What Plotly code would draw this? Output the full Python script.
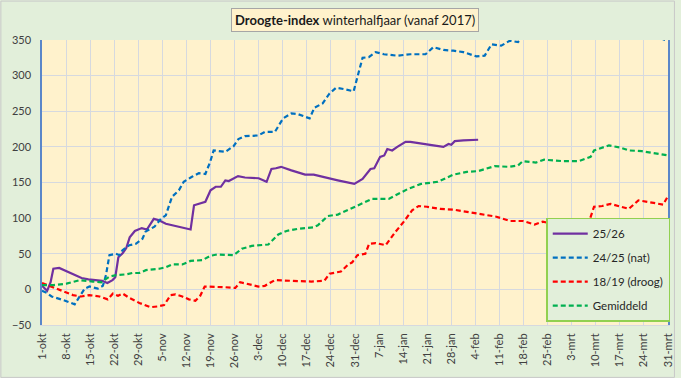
import plotly.graph_objects as go

# ---- data (x = day number since 1-okt) ----
tick_labels = ["1-okt", "8-okt", "15-okt", "22-okt", "29-okt", "5-nov", "12-nov", "19-nov",
               "26-nov", "3-dec", "10-dec", "17-dec", "24-dec", "31-dec", "7-jan", "14-jan",
               "21-jan", "28-jan", "4-feb", "11-feb", "18-feb", "25-feb", "3-mrt", "10-mrt",
               "17-mrt", "24-mrt", "31-mrt"]

s2526_day = [0, 1.5, 2.5, 3.3, 5, 7, 9, 11.5, 13.5, 16, 17.5, 19, 20.5, 21.3, 22.2, 23.5, 24.5,
             25.5, 27, 29, 30.5, 32.5, 34, 36, 40, 42, 43.2, 44.2, 45.5, 47.5, 49, 50.5, 52,
             53.3, 54.3, 55.3, 57, 59, 63, 65.3, 66.7, 68, 69.5, 72.5, 76.5, 79, 84, 86, 90.8,
             93.2, 95.5, 96.6, 98.3, 99.5, 100.4, 101.8, 103.3, 105.7, 107.1, 110.5, 113.8,
             116.7, 118.2, 119, 120, 122.5, 125, 126.8]
s2526_val = [5, -2, 10, 29, 30, 26, 21, 16, 14, 13, 12, 9, 13, 17, 45, 51, 58,
             73, 82, 86, 84, 99, 97, 92, 88, 85, 84, 118, 120, 123, 139, 144, 144,
             153, 152, 155, 159, 157, 156, 151, 169, 170, 172, 167, 161, 161, 155, 153, 148,
             155, 169, 170, 186, 188, 197, 195, 200, 207, 207, 204, 202,
             200, 204, 203, 208, 209, 209, 210]

s2425_day = [0, 1.4, 2.8, 6.2, 9.5, 11.4, 12.4, 13.8, 16.2, 17.7, 18.6, 19.6, 21.5, 22.5, 23.4,
             25.4, 27.3, 29.2, 30.1, 32.7, 34.6, 36, 36.9, 37.8, 39.8, 41.2, 43.6, 45.6, 47.5,
             48.9, 49.9, 51.8, 53.3, 55.7, 57.1, 59, 62.9, 64.8, 67.7, 70.1, 72.5, 74.4, 76.3,
             77.8, 79.2, 81.6, 83.6, 85.5, 87.9, 90.6, 91.7, 93.2, 95, 97, 99.4, 103.3, 107.1,
             111.5, 113.8, 116.7, 119.6, 122.5, 126.3, 128.7, 130.7, 133.5, 136, 138.4, 140,
             150, 160, 170, 179, 180.6, 182]
s2425_val = [-2, -5, -10, -15, -21, -6, 1, 4, 1, 5, 20, 48, 50, 48, 55,
             62, 64, 71, 81, 88, 99, 104, 118, 130, 139, 151, 158, 163, 162,
             179, 195, 194, 193, 201, 211, 215, 216, 221, 221, 240, 247, 246, 243,
             240, 255, 261, 275, 283, 281, 278, 298, 325, 326, 333, 330, 328, 330,
             330, 340, 336, 335, 333, 327, 328, 344, 342, 349, 347, 356,
             365, 370, 365, 358, 351, 349]

s1819_day = [0, 3.3, 6.2, 9, 11.4, 13.8, 16.7, 19.1, 20.6, 22.1, 23.5, 25.4, 28.3, 31.6, 33.6,
             35.5, 37.4, 38.8, 40.8, 42.7, 44.6, 46, 47.3, 49.4, 53.3, 56.2, 57.6, 59.5, 62.9,
             64.8, 66.7, 67.7, 72.5, 78.3, 82.1, 83.6, 86.9, 88.8, 90.2, 91.7, 94, 95.1, 97,
             99.9, 102.8, 105.2, 107.6, 109.5, 111.9, 115.7, 119.6, 123.5, 128.2, 132.1, 136,
             139.8, 143.2, 145.6, 150.4, 155.3, 156.6, 159.1, 160.5, 162.9, 165.3, 168.6, 170.6,
             173.4, 176.3, 180.6, 182]
s1819_val = [9, 3, -3, -8, -10, -8, -10, -14, -6, -9, -6, -12, -19, -25, -24,
             -22, -8, -7, -10, -14, -16, -9, 4, 4, 3, 2, 10, 8, 4,
             5, 10, 13, 12, 11, 12, 22, 25, 34, 38, 48, 50, 64, 65,
             62, 81, 95, 111, 117, 116, 113, 112, 109, 106, 102, 96,
             96, 91, 95, 90, 85, 95, 96, 116, 117, 120, 116, 113,
             125, 123, 119, 131]

gem_day = [0, 3.3, 7.1, 11, 14.8, 17.2, 19.6, 21.6, 24.4, 26.3, 28.3, 30.2, 34.1, 36, 37.8,
           40.8, 43.2, 46.6, 48.9, 50.9, 55.7, 58.1, 61, 63.8, 65.8, 68.7, 71.1, 74.4, 78.8,
           80.2, 83.1, 86, 89.6, 92.5, 96, 100.8, 103.7, 106.4, 110.2, 115.1, 119.6, 123.5,
           126.8, 128.2, 131.6, 135.9, 138.4, 139.8, 143.6, 146, 151.3, 156.1, 159.5, 160.5,
           164.8, 168.2, 170.6, 174.4, 178.3, 182]
gem_val = [6, 6, 8, 13, 11, 10, 18, 20, 21, 23, 23, 27, 29, 31, 35,
           35, 40, 41, 47, 49, 48, 57, 61, 62, 63, 77, 82, 85, 87,
           90, 103, 105, 113, 120, 127, 127, 134, 141, 148, 151, 161, 165,
           166, 168, 173, 172, 174, 180, 178, 182, 180, 180, 186, 195,
           202, 199, 195, 194, 191, 188]

series = [
    ("25/26", s2526_day, s2526_val, "#7030A0", "solid"),
    ("24/25 (nat)", s2425_day, s2425_val, "#0070C0", "5px,3px"),
    ("18/19 (droog)", s1819_day, s1819_val, "#FF0000", "5px,3px"),
    ("Gemiddeld", gem_day, gem_val, "#00B050", "5px,3px"),
]

FONT = "Lato"
fig = go.Figure()
for i, (name, xs, ys, col, dash) in enumerate(series):
    fig.add_trace(go.Scatter(
        x=xs, y=ys, mode="lines", name=name, legendgroup=f"g{i}",
        line=dict(color=col, width=2.2, dash=dash),
    ))

tick_vals = [7 * i for i in range(len(tick_labels))]

fig.update_layout(
    width=681, height=378,
    margin=dict(l=42, r=7, t=39.5, b=53, pad=0),
    paper_bgcolor="#E2EFDA",
    plot_bgcolor="#FFF2CC",
    font=dict(family=FONT, size=11, color="#404040"),
    showlegend=True,
    legend=dict(
        x=0.8055, y=0.012, xanchor="left", yanchor="bottom",
        bgcolor="#E2EFDA", bordercolor="#92D050", borderwidth=1.5,
        font=dict(family=FONT, size=11.5, color="#262626"),
        traceorder="grouped", tracegroupgap=5, itemwidth=35,
    ),
    xaxis=dict(
        range=[0, 182], tickmode="array", tickvals=tick_vals, ticktext=tick_labels,
        tickangle=-90, showgrid=True, gridcolor="#D6D9DF", gridwidth=1,
        showline=True, linecolor="#D6D9DF", mirror=False, zeroline=False,
        ticks="", tickfont=dict(size=11, color="#404040"), ticklabelstandoff=3,
    ),
    yaxis=dict(
        range=[-50, 350], dtick=50, showgrid=True, gridcolor="#D6D9DF", gridwidth=1,
        showline=True, linecolor="#5B87C9", linewidth=1.5, mirror=True, zeroline=False,
        ticks="", tickfont=dict(size=11, color="#404040"), ticklabelstandoff=7,
    ),
    annotations=[dict(
        xref="paper", yref="paper", x=0.5, y=1.0718, xanchor="center", yanchor="middle",
        text="<b>Droogte-index</b> winterhalfjaar (vanaf 2017)", showarrow=False,
        font=dict(family=FONT, size=13, color="#1A1A1A"),
        bgcolor="#FFF2CC", bordercolor="#A6A6A6", borderwidth=1, borderpad=3,
    )],
    shapes=[dict(
        type="rect", xref="paper", yref="paper",
        x0=-0.0657, x1=1.0103, y0=-0.1839, y1=1.1366,
        line=dict(color="#C8C8C8", width=1), fillcolor="rgba(0,0,0,0)", layer="below",
    )],
)

fig.write_html("out.html", config={"displayModeBar": False},
               post_script="document.body.style.margin='0';document.body.style.overflow='hidden';")
